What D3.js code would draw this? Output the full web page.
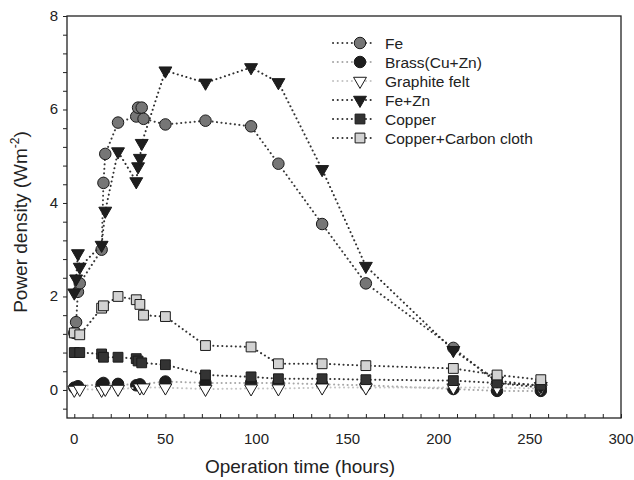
<!DOCTYPE html>
<html>
<head>
<meta charset="utf-8">
<script src="https://cdn.jsdelivr.net/npm/d3@7"></script>
<style>
  body { margin: 0; background: #fff; }
  text { font-family: 'Liberation Sans', Arial, sans-serif; }
</style>
</head>
<body>
<div id="chart"></div>
<script>
// data
const feHours = [0, 1, 2, 3, 15, 16, 17, 24, 34, 35, 37, 38, 50, 72, 97, 112, 136, 160, 208, 232, 256]
const feValues = [1.22, 1.45, 2.1, 2.28, 3.0, 4.43, 5.05, 5.72, 5.85, 6.04, 6.04, 5.8, 5.68, 5.76, 5.64, 4.84, 3.55, 2.28, 0.9, 0.15, 0.05]

const brassHours = [0, 2, 15, 16, 24, 34, 36, 50, 72, 97, 112, 136, 160, 208, 232, 256]
const brassValues = [0.05, 0.08, 0.12, 0.15, 0.13, 0.1, 0.12, 0.18, 0.15, 0.15, 0.15, 0.12, 0.1, 0.02, -0.02, -0.02]

const graphiteHours = [0, 3, 15, 17, 24, 36, 38, 50, 72, 97, 112, 136, 160, 208, 232, 256]
const graphiteValues = [0.0, 0.02, 0.0, 0.02, 0.02, 0.05, 0.05, 0.05, 0.02, 0.03, 0.03, 0.05, 0.05, 0.05, 0.05, 0.03]

const feZnHours = [0, 1, 2, 3, 15, 17, 24, 34, 35, 36, 37, 50, 72, 97, 112, 136, 160, 208, 232, 256]
const feZnValues = [2.08, 2.38, 2.92, 2.63, 3.1, 3.83, 5.1, 4.46, 4.78, 4.96, 5.28, 6.83, 6.57, 6.9, 6.58, 4.72, 2.65, 0.85, 0.2, 0.08]

const copperHours = [0, 3, 15, 16, 24, 34, 35, 37, 50, 72, 97, 112, 136, 160, 208, 232, 256]
const copperValues = [0.8, 0.8, 0.77, 0.7, 0.7, 0.67, 0.62, 0.58, 0.54, 0.32, 0.28, 0.24, 0.24, 0.22, 0.2, 0.15, 0.1]

const clothHours = [0, 3, 15, 16, 24, 34, 36, 38, 50, 72, 97, 112, 136, 160, 208, 232, 256]
const clothValues = [1.22, 1.18, 1.75, 1.8, 2.0, 1.93, 1.83, 1.6, 1.57, 0.95, 0.92, 0.56, 0.56, 0.52, 0.46, 0.32, 0.22]

const seriesNames = ['Fe', 'Brass(Cu+Zn)', 'Graphite felt', 'Fe+Zn', 'Copper', 'Copper+Carbon cloth']
const xTicks = [0, 50, 100, 150, 200, 250, 300]
const yTicks = [0, 2, 4, 6, 8]

const series = [
  { name: seriesNames[0], hours: feHours, values: feValues, shape: 'circle', fill: '#767676', line: '#3a3a3a' },
  { name: seriesNames[1], hours: brassHours, values: brassValues, shape: 'circle', fill: '#1e1e1e', line: '#a8a8a8' },
  { name: seriesNames[2], hours: graphiteHours, values: graphiteValues, shape: 'triangle', fill: '#ffffff', line: '#c4c4c4' },
  { name: seriesNames[3], hours: feZnHours, values: feZnValues, shape: 'triangle', fill: '#1e1e1e', line: '#2e2e2e' },
  { name: seriesNames[4], hours: copperHours, values: copperValues, shape: 'square', fill: '#333333', line: '#333333' },
  { name: seriesNames[5], hours: clothHours, values: clothValues, shape: 'square', fill: '#d2d2d2', line: '#333333' }
]

const width = 634
const height = 480
const plot = { left: 67, right: 621, top: 16, bottom: 418 }

const svg = d3.select('#chart').append('svg')
  .attr('width', width)
  .attr('height', height)

const x = d3.scaleLinear().domain([-4, 300]).range([plot.left, plot.right])
const y = d3.scaleLinear().domain([-0.6, 8]).range([plot.bottom, plot.top])

// frame
svg.append('rect')
  .attr('x', plot.left).attr('y', plot.top)
  .attr('width', plot.right - plot.left).attr('height', plot.bottom - plot.top)
  .attr('fill', 'none').attr('stroke', '#222').attr('stroke-width', 1.3)

// y axis: ticks point outwards
const yMinor = d3.range(-0.4, 8.01, 0.4).map(v => +v.toFixed(1))
svg.append('g')
  .attr('transform', `translate(${plot.left},0)`)
  .call(d3.axisLeft(y).tickValues(yMinor).tickSize(4).tickFormat(''))
  .call(g => g.select('.domain').remove())
  .selectAll('line').attr('stroke', '#222')

svg.append('g')
  .selectAll('text')
  .data(yTicks)
  .join('text')
  .attr('x', plot.left - 9)
  .attr('y', d => y(d) + 5)
  .attr('text-anchor', 'end')
  .attr('font-size', 15)
  .attr('fill', '#222')
  .text(d => d)

// x axis: ticks point inwards
const xMinor = d3.range(0, 301, 10)
svg.append('g')
  .attr('transform', `translate(0,${plot.bottom})`)
  .call(d3.axisTop(x).tickValues(xMinor).tickSize(4).tickFormat(''))
  .call(g => g.select('.domain').remove())
  .selectAll('line').attr('stroke', '#222')

svg.append('g')
  .selectAll('text')
  .data(xTicks)
  .join('text')
  .attr('x', d => x(d))
  .attr('y', 444)
  .attr('text-anchor', 'middle')
  .attr('font-size', 15)
  .attr('fill', '#222')
  .text(d => d)

// axis titles
svg.append('text')
  .attr('x', 300)
  .attr('y', 473)
  .attr('text-anchor', 'middle')
  .attr('font-size', 19)
  .attr('fill', '#222')
  .text('Operation time (hours)')

const yTitle = svg.append('text')
  .attr('transform', 'translate(27,222) rotate(-90)')
  .attr('text-anchor', 'middle')
  .attr('font-size', 19)
  .attr('fill', '#222')
yTitle.append('tspan').text('Power density (Wm')
yTitle.append('tspan').attr('font-size', 12).attr('dy', -8).text('-2')
yTitle.append('tspan').attr('dy', 8).text(')')

// marker helper
function marker (sel, shape) {
  if (shape === 'circle') {
    sel.attr('d', d3.symbol(d3.symbolCircle, 104)())
  } else if (shape === 'square') {
    sel.attr('d', d3.symbol(d3.symbolSquare, 96)())
  } else {
    sel.attr('d', d3.symbol(d3.symbolTriangle, 72)())
  }
}

const line = d3.line()
  .x(d => x(d[0]))
  .y(d => y(d[1]))

// series
series.forEach(s => {
  const pts = s.hours.map((h, i) => [h, s.values[i]])
  const g = svg.append('g')
  g.append('path')
    .attr('d', line(pts))
    .attr('fill', 'none')
    .attr('stroke', s.line)
    .attr('stroke-width', 2)
    .attr('stroke-linecap', 'round')
    .attr('stroke-dasharray', '0.1,4.4')
  g.selectAll('path.pt')
    .data(pts)
    .join('path')
    .attr('class', 'pt')
    .attr('transform', d => `translate(${x(d[0])},${y(d[1])})` + (s.shape === 'triangle' ? ' rotate(180)' : ''))
    .call(marker, s.shape)
    .attr('fill', s.fill)
    .attr('stroke', '#1a1a1a')
    .attr('stroke-width', 1)
})

// legend
const legend = svg.append('g')
  .attr('transform', 'translate(333,43)')
const items = legend.selectAll('g')
  .data(series)
  .join('g')
  .attr('transform', (d, i) => `translate(0,${i * 19})`)
items.append('line')
  .attr('x1', 0).attr('x2', 41)
  .attr('stroke', d => d.line)
  .attr('stroke-width', 2)
  .attr('stroke-linecap', 'round')
  .attr('stroke-dasharray', '0.1,4.6')
items.append('path')
  .attr('transform', d => 'translate(27,0)' + (d.shape === 'triangle' ? ' rotate(180)' : ''))
  .each(function (d) { d3.select(this).call(marker, d.shape) })
  .attr('fill', d => d.fill)
  .attr('stroke', '#1a1a1a')
  .attr('stroke-width', 1)
items.append('text')
  .attr('x', 52)
  .attr('y', 5.5)
  .attr('font-size', 15.5)
  .attr('fill', '#222')
  .text(d => d.name)
</script>
</body>
</html>
